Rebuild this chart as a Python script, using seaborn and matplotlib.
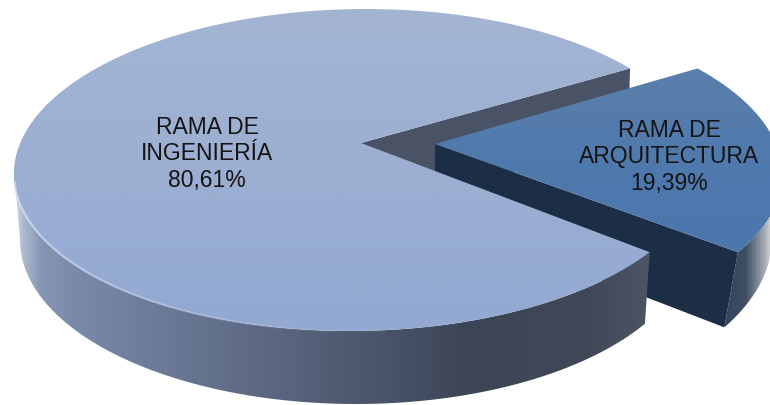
import numpy as np
import matplotlib
matplotlib.use("Agg")
import matplotlib.pyplot as plt
from matplotlib.collections import LineCollection
from matplotlib.colors import LinearSegmentedColormap
from matplotlib.patches import Polygon
import seaborn as sns

# Share of each branch, in percent
categories = ["RAMA DE\nINGENIERÍA", "RAMA DE\nARQUITECTURA"]
shares = [80.61, 19.39]

sns.set_theme(style="white")
plt.rcParams["font.family"] = ["Liberation Sans", "DejaVu Sans"]

fig, ax = plt.subplots(figsize=(7.7, 4.05), dpi=100)
fig.subplots_adjust(0, 0, 1, 1)
ax.set_axis_off()


def arc(cx, cy, rx, ry, a0, a1, skew=0.0):
    """Points on a tilted-disc rim between two angles given in degrees."""
    t = np.radians(np.linspace(a0, a1, 240))
    y = cy - ry * np.sin(t)
    x = cx + rx * np.cos(t) - skew * (cy - y)
    return np.column_stack([x, y])


def fill_gradient(points, cmap, horizontal=False, zorder=1):
    """Fill a polygon with a linear gradient over its bounding box."""
    poly = Polygon(points, closed=True, transform=ax.transData, facecolor="none", edgecolor="none")
    ax.add_patch(poly)
    ramp = np.linspace(0, 1, 256)
    ramp = ramp[None, :] if horizontal else ramp[:, None]
    x0, y0 = points.min(axis=0)
    x1, y1 = points.max(axis=0)
    img = ax.imshow(ramp, cmap=cmap, extent=(x0, x1, y1, y0), origin="upper",
                    aspect="auto", zorder=zorder, interpolation="bilinear")
    img.set_clip_path(poly)


def stops(pairs):
    return LinearSegmentedColormap.from_list("ramp", pairs)


# The smaller slice is centred on 0 degrees of the rim, offset by the starting angle
start = -30.7
sweep = shares[1] / sum(shares) * 360
low, high = start, start + sweep

# Large slice geometry
apex_main = np.array([361.0, 143.0])
top_main = (358, 170, 344, 161)
skew_main = -0.05
base_main = (356, 240, 336, 164)
depth = 72

# Detached slice geometry
apex_small = np.array([435.0, 144.0])
top_small = (432, 170, 350, 161)
base_small = (432, 238, 340, 175)
skew_small = 0.06

# Cut face of the large slice, seen behind the detached slice
corner_up = arc(*top_main, high, high, skew_main)[0]
ax.add_patch(Polygon([apex_main, corner_up, corner_up + [-2, depth], apex_main + [0, depth]],
                     facecolor="#4a5366", edgecolor="none", zorder=1))

# Outer wall of the detached slice
rim_small = arc(*top_small, low, high, skew_small)
wall_small = np.vstack([arc(*top_small, low, 12, skew_small), arc(*base_small, 12, low)])
fill_gradient(wall_small, stops([(0, "#33445c"), (0.36, "#3e4d62"), (0.53, "#6d7a8a"),
                                 (0.71, "#a9afb8"), (0.80, "#d0d3d6"), (1, "#e0e2e4")]),
              horizontal=True, zorder=2)

# Cut face of the detached slice
lower_top = rim_small[0]
lower_base = arc(*base_small, low, low)[0]
ax.add_patch(Polygon([apex_small, lower_top, lower_base, apex_small + [0, depth]],
                     facecolor="#1c2e45", edgecolor="none", zorder=3))

# Top of the detached slice
fill_gradient(np.vstack([apex_small, rim_small]),
              sns.blend_palette(["#5a7fab", "#5079ad", "#4b77ad"], as_cmap=True), zorder=4)

# Outer wall of the large slice
rim_front = arc(*top_main, low, -180, skew_main)
wall_main = np.vstack([rim_front, arc(*base_main, -180, low)])
fill_gradient(wall_main,
              stops([(0, "#d4dbe6"), (0.012, "#aebbd0"), (0.04, "#8796b3"), (0.09, "#7a8aa8"),
                     (0.30, "#65728e"), (0.57, "#4b556b"), (0.72, "#3c4556"), (0.90, "#404858"),
                     (1, "#4d5463")]),
              horizontal=True, zorder=5)

# Top of the large slice
rim_main = arc(*top_main, high, 360 + low, skew_main)
fill_gradient(np.vstack([apex_main, rim_main]),
              sns.blend_palette(["#a3b5d3", "#9cafd2", "#93a9d2"], as_cmap=True), zorder=6)

# Highlight along the front of the rim, fading towards the right
glow = arc(*top_main, -176, -88, skew_main)
segments = np.stack([glow[:-1], glow[1:]], axis=1)
fade = np.linspace(0.95, 0.0, len(segments))
colors = [(0.83, 0.88, 0.98, a) for a in fade]
ax.add_collection(LineCollection(segments, colors=colors, linewidths=1.6, zorder=7))

# Labels
label_pos = [(207, 154), (669, 157)]
for name, share, (tx, ty) in zip(categories, shares, label_pos):
    value = f"{share:.2f}".replace(".", ",") + "%"
    ax.text(tx, ty, f"{name}\n{value}", ha="center", va="center", fontsize=16.5,
            color="#141414", linespacing=1.17, zorder=8)

ax.set_xlim(0, 770)
ax.set_ylim(405, 0)
fig.savefig("out.png", dpi=100, facecolor="white")
